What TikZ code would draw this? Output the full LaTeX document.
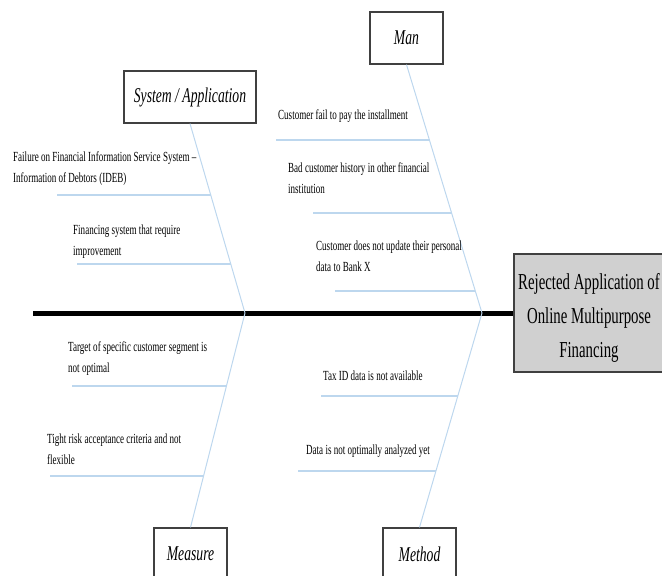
\documentclass[tikz,border=0pt]{standalone}
\usepackage{fontspec}
\setmainfont{Liberation Serif}[FakeStretch=0.65]
\usetikzlibrary{calc}
\definecolor{boneblue}{RGB}{189,215,238}
\definecolor{effgray}{RGB}{208,208,208}
\begin{document}
\begin{tikzpicture}[x=1pt,y=-1pt,
  bone/.style={draw=boneblue, line width=1pt},
  sub/.style={draw=boneblue, line width=1.6pt},
  cat/.style={draw=black!75, line width=1.2pt, fill=white, minimum height=52pt, inner sep=0,
    font=\fontsize{21}{24}\selectfont\itshape},
  cause/.style={anchor=north west, inner sep=0, align=left, font=\fontsize{13.9}{21}\selectfont},
]
\useasboundingbox (0,0) rectangle (662,576);

% effect box and spine
\node[draw=black!75, line width=1.2pt, fill=effgray, minimum width=150pt, minimum height=118pt,
  align=center, inner sep=0, font=\fontsize{22.8}{34}\selectfont] (effect) at (589,313)
  {\raisebox{-5pt}[\height][\depth]{\parbox{150pt}{\centering Rejected Application of\\Online Multipurpose\\Financing}}};
\coordinate (tail) at (33,313);
\draw[line width=5pt] (tail) -- (effect.west);
\coordinate (js) at (245,313);
\coordinate (jm) at (482,313);

% category boxes
\node[cat, minimum width=132pt] (sys) at (190,97) {System / Application};
\node[cat, minimum width=73pt] (man) at (406.5,38) {Man};
\node[cat, minimum width=73pt] (meas) at (190.5,554) {Measure};
\node[cat, minimum width=73pt] (meth) at (419.5,554) {Method};

% main bones
\draw[bone] (sys.south) -- (js);
\draw[bone] (man.south) -- (jm);
\draw[bone] (js) -- (meas.north);
\draw[bone] (jm) -- (meth.north);

% junction points on bones
\coordinate (sA) at ($(sys.south)!0.379!(js)$);
\coordinate (sB) at ($(sys.south)!0.742!(js)$);
\coordinate (mA) at ($(man.south)!0.305!(jm)$);
\coordinate (mB) at ($(man.south)!0.598!(jm)$);
\coordinate (mC) at ($(man.south)!0.912!(jm)$);
\coordinate (eA) at ($(js)!0.34!(meas.north)$);
\coordinate (eB) at ($(js)!0.758!(meas.north)$);
\coordinate (tA) at ($(jm)!0.386!(meth.north)$);
\coordinate (tB) at ($(jm)!0.735!(meth.north)$);

% free ends
\coordinate (sAe) at (57,195);
\coordinate (sBe) at (77,264);
\coordinate (mAe) at (276,140);
\coordinate (mBe) at (313,213);
\coordinate (mCe) at (335,291);
\coordinate (eAe) at (72,386);
\coordinate (eBe) at (50,476);
\coordinate (tAe) at (321,396);
\coordinate (tBe) at (298,471);

\draw[sub] (sAe) -- (sAe -| sA);
\draw[sub] (sBe) -- (sBe -| sB);
\draw[sub] (mAe) -- (mAe -| mA);
\draw[sub] (mBe) -- (mBe -| mB);
\draw[sub] (mCe) -- (mCe -| mC);
\draw[sub] (eAe) -- (eAe -| eA);
\draw[sub] (eBe) -- (eBe -| eB);
\draw[sub] (tAe) -- (tAe -| tA);
\draw[sub] (tBe) -- (tBe -| tB);

% causes
\node[cause] (c1) at (13,152) {Failure on Financial Information Service System –\\Information of Debtors (IDEB)};
\node[cause] (c2) at (73,225) {Financing system that require\\improvement};
\node[cause] (c3) at (278,110) {Customer fail to pay the installment};
\node[cause] (c4) at (288,163) {Bad customer history in other financial\\institution};
\node[cause] (c5) at (316,241) {Customer does not update their personal\\data to Bank X};
\node[cause] (c6) at (68,342) {Target of specific customer segment is\\not optimal};
\node[cause] (c7) at (47,434) {Tight risk acceptance criteria and not\\flexible};
\node[cause] (c8) at (323,371) {Tax ID data is not available};
\node[cause] (c9) at (306,445) {Data is not optimally analyzed yet};
\end{tikzpicture}
\end{document}
